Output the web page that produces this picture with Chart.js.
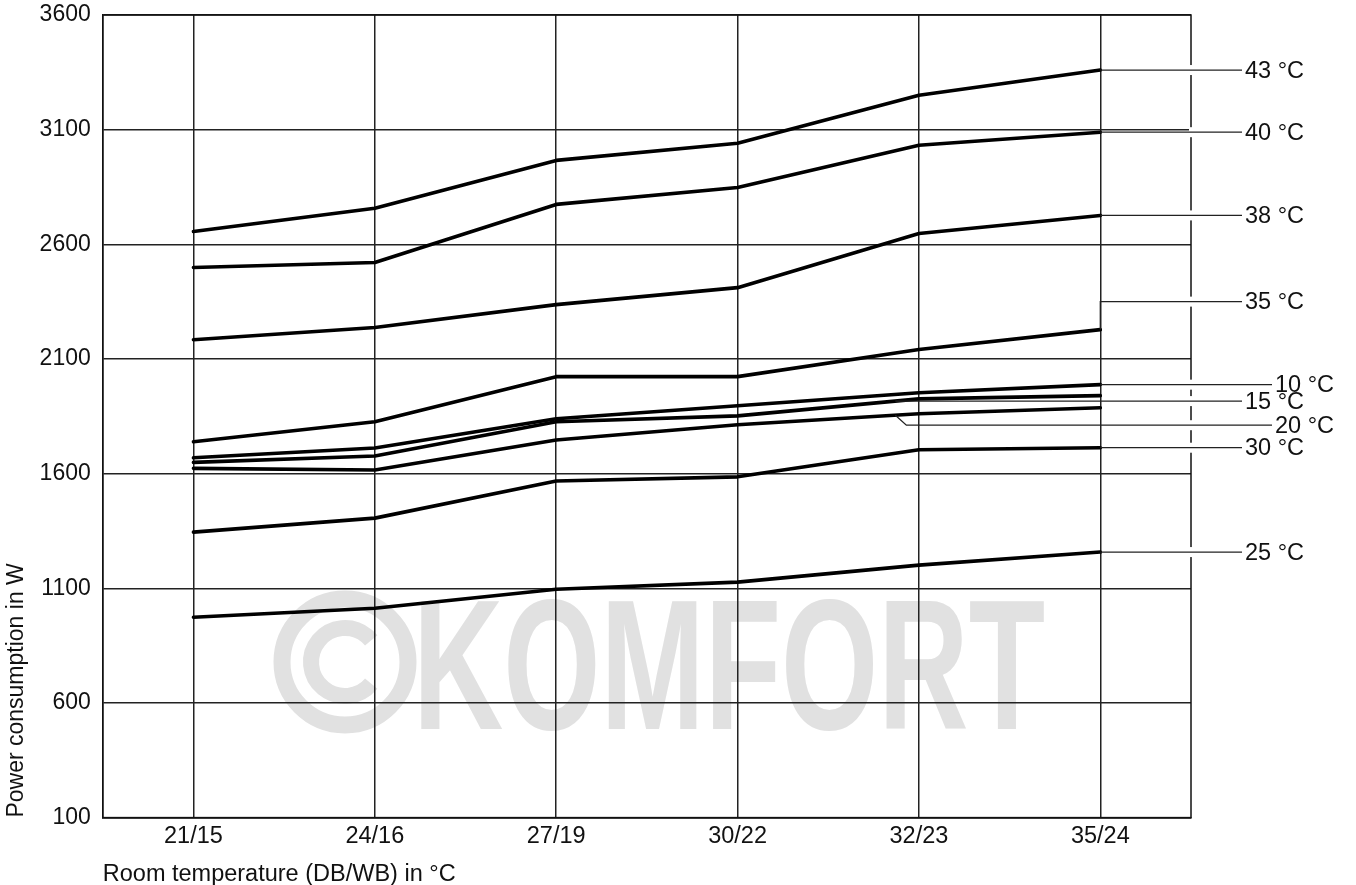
<!DOCTYPE html>
<html>
<head>
<meta charset="utf-8">
<title>Power consumption</title>
<script src="https://cdn.jsdelivr.net/npm/chart.js@4.4.1/dist/chart.umd.min.js"></script>
<style>
  html, body { margin: 0; padding: 0; background: #fff; }
  #wrap { width: 1356px; height: 885px; position: relative; }
</style>
</head>
<body>
<div id="wrap"><canvas id="powerChart"></canvas></div>
<script>
// room temperature categories (DB/WB)
const roomTemps = ['21/15', '24/16', '27/19', '30/22', '32/23', '35/24'];
const outdoorLabels = ['43 °C', '40 °C', '38 °C', '35 °C', '10 °C', '15 °C', '20 °C', '30 °C', '25 °C'];

// power consumption in W, one array per outdoor temperature
const power43 = [2656, 2757, 2966, 3041, 3250, 3360];
const power40 = [2499, 2521, 2774, 2848, 3032, 3089];
const power38 = [2184, 2237, 2337, 2411, 2647, 2726];
const power35 = [1739, 1826, 2023, 2023, 2141, 2228];
const power10 = [1669, 1712, 1839, 1896, 1953, 1988];
const power15 = [1649, 1677, 1826, 1852, 1926, 1940];
const power20 = [1623, 1616, 1747, 1813, 1861, 1887];
const power30 = [1345, 1406, 1568, 1586, 1704, 1713];
const power25 = [974, 1013, 1096, 1127, 1201, 1258];

const yTicks = [100, 600, 1100, 1600, 2100, 2600, 3100, 3600];

const seriesValues = [power43, power40, power38, power35, power10, power15, power20, power30, power25];

// where each label's leader line leaves its curve
const leaders = [
  { at: 5, dy: 0, kink: 0, reach: 51 },
  { at: 5, dy: 0, kink: 0, reach: 51 },
  { at: 5, dy: 0, kink: 0, reach: 51 },
  { at: 5, dy: -28, kink: 0, reach: 51 },
  { at: 5, dy: 0, kink: 0, reach: 81 },
  { at: 3.87, dy: 0, kink: 0, reach: 51 },
  { at: 3.87, dy: 10, kink: 11, reach: 81 },
  { at: 5, dy: 0, kink: 0, reach: 51 },
  { at: 5, dy: 0, kink: 0, reach: 51 }
];

const FONT = '"Liberation Sans", Arial, sans-serif';

const watermark = {
  id: 'watermark',
  beforeDraw(chart) {
    const ctx = chart.ctx;
    ctx.save();
    ctx.strokeStyle = '#e1e1e1';
    ctx.fillStyle = '#e1e1e1';
    ctx.lineWidth = 17;
    ctx.beginPath();
    ctx.arc(345, 662, 63, 0, Math.PI * 2);
    ctx.stroke();
    ctx.lineWidth = 16;
    ctx.beginPath();
    ctx.arc(345, 662, 34, Math.PI * 0.22, Math.PI * 1.78);
    ctx.stroke();
    ctx.font = 'bold 185px ' + FONT;
    const w = ctx.measureText('KOMFORT').width;
    ctx.translate(413, 729);
    ctx.scale(632 / w, 1);
    ctx.textBaseline = 'alphabetic';
    ctx.fillText('KOMFORT', 0, 0);
    ctx.restore();
  }
};

const frame = {
  id: 'frame',
  beforeDatasetsDraw(chart) {
    const { ctx, chartArea } = chart;
    ctx.save();
    ctx.strokeStyle = '#111';
    ctx.lineWidth = 1.5;
    ctx.strokeRect(chartArea.left, chartArea.top, chartArea.right - chartArea.left, chartArea.bottom - chartArea.top);
    ctx.restore();
  }
};

const leaderLabels = {
  id: 'leaderLabels',
  afterDatasetsDraw(chart) {
    const { ctx, chartArea, scales: { x, y } } = chart;
    ctx.save();
    ctx.font = '23.5px ' + FONT;
    ctx.textBaseline = 'middle';
    ctx.textAlign = 'left';
    chart.data.datasets.forEach((ds, i) => {
      const s = leaders[i];
      const i0 = Math.floor(s.at);
      const i1 = Math.min(i0 + 1, ds.data.length - 1);
      const f = s.at - i0;
      const x0 = x.getPixelForValue(i0) + (x.getPixelForValue(i1) - x.getPixelForValue(i0)) * f;
      const y0 = y.getPixelForValue(ds.data[i0] + (ds.data[i1] - ds.data[i0]) * f);
      const ly = y0 + s.dy;
      const endX = chartArea.right + s.reach;

      // small break in the frame where the leader passes
      ctx.fillStyle = '#fff';
      ctx.fillRect(chartArea.right - 2, ly - 5, 4, 10);

      ctx.strokeStyle = '#222';
      ctx.lineWidth = 1.3;
      ctx.beginPath();
      ctx.moveTo(x0, y0);
      if (s.dy) ctx.lineTo(x0 + s.kink, ly);
      ctx.lineTo(endX, ly);
      ctx.stroke();

      ctx.fillStyle = '#111';
      ctx.fillText(ds.label, endX + 3, ly + 1);
    });
    ctx.restore();
  }
};

const ctx = document.getElementById('powerChart').getContext('2d');
new Chart(ctx, {
  type: 'line',
  data: {
    labels: roomTemps,
    datasets: seriesValues.map((values, i) => ({
      label: outdoorLabels[i],
      data: values,
      borderColor: '#000',
      borderWidth: 3.6,
      borderCapStyle: 'round',
      borderJoinStyle: 'round',
      pointRadius: 0,
      tension: 0,
      fill: false
    }))
  },
  options: {
    responsive: true,
    maintainAspectRatio: false,
    animation: false,
    layout: { padding: { left: 3, right: 165, top: 15, bottom: -4 } },
    plugins: {
      legend: { display: false },
      tooltip: { enabled: false }
    },
    scales: {
      x: {
        offset: true,
        grid: { offset: false, color: '#222', lineWidth: 1.5, drawTicks: false },
        border: { display: true, color: '#111', width: 1.5 },
        ticks: { color: '#111', font: { family: FONT, size: 23.5 }, padding: 5 },
        title: {
          display: true,
          text: 'Room temperature (DB/WB) in °C',
          align: 'start',
          color: '#111',
          font: { family: FONT, size: 23.5 },
          padding: { top: 5, bottom: 0 }
        }
      },
      y: {
        min: yTicks[0],
        max: yTicks[yTicks.length - 1],
        afterBuildTicks(scale) {
          scale.ticks = yTicks.map(v => ({ value: v }));
        },
        afterFit(scale) {
          scale.paddingTop = 0;
          scale.paddingBottom = 0;
        },
        grid: { color: '#222', lineWidth: 1.5, drawTicks: false },
        border: { display: true, color: '#111', width: 1.5 },
        ticks: {
          color: '#111',
          font: { family: FONT, size: 23 },
          padding: 12,
          callback(value) {
            return String(value);
          }
        },
        title: {
          display: true,
          text: 'Power consumption in W',
          align: 'start',
          color: '#111',
          font: { family: FONT, size: 23 },
          padding: { top: 0, bottom: -3 }
        }
      }
    }
  },
  plugins: [watermark, frame, leaderLabels]
});
</script>
</body>
</html>
